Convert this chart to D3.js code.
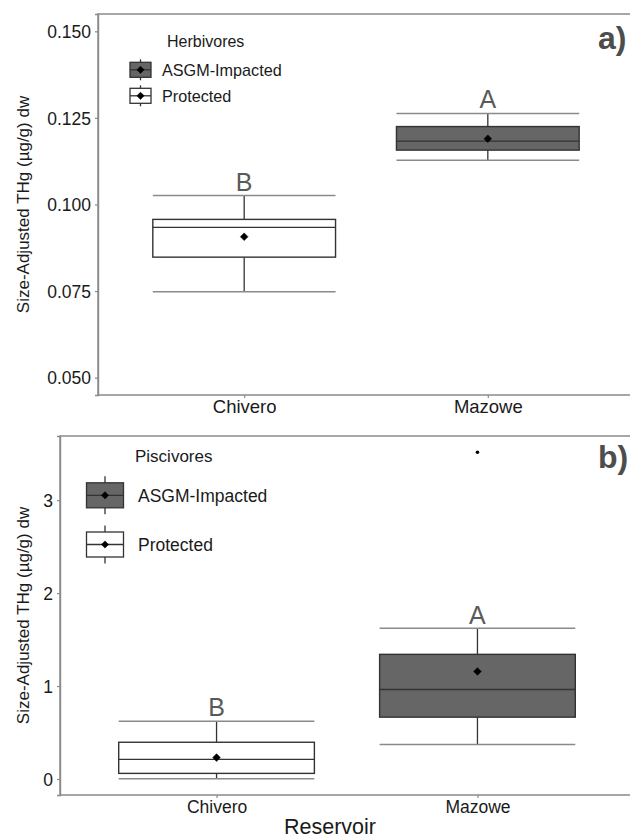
<!DOCTYPE html>
<html>
<head>
<meta charset="utf-8">
<script src="https://cdn.jsdelivr.net/npm/d3@7"></script>
<style>
  html, body { margin: 0; padding: 0; background: #fff; }
  svg { display: block; font-family: "Liberation Sans", Arial, sans-serif; }
</style>
</head>
<body>
<svg id="chart" width="630" height="839"></svg>
<script>
// ---------------- DATA ----------------
const categories = ["Chivero", "Mazowe"];
const groupOfCategory = ["Protected", "ASGM-Impacted"];
const legendGroups = ["ASGM-Impacted", "Protected"];

// Herbivores (panel a)
const herbWhiskerLow  = [0.0748, 0.1128];
const herbQ1          = [0.0848, 0.1157];
const herbMedian      = [0.0934, 0.1183];
const herbQ3          = [0.0957, 0.1225];
const herbWhiskerHigh = [0.1026, 0.1263];
const herbMean        = [0.0907, 0.1190];
const herbLetters     = ["B", "A"];
const herbTicks       = [0.050, 0.075, 0.100, 0.125, 0.150];
const herbLimits      = [0.05, 0.15];

// Piscivores (panel b)
const piscWhiskerLow  = [0.003, 0.370];
const piscQ1          = [0.060, 0.665];
const piscMedian      = [0.211, 0.963];
const piscQ3          = [0.395, 1.341];
const piscWhiskerHigh = [0.621, 1.621];
const piscMean        = [0.230, 1.157];
const piscOutlierCat  = ["Mazowe"];
const piscOutlierVal  = [3.515];
const piscLetters     = ["B", "A"];
const piscTicks       = [0, 1, 2, 3];

const fills = { "ASGM-Impacted": "#666666", "Protected": "#ffffff" };

// ---------------- DRAW ----------------
const svg = d3.select("#chart");
const gridGray = "#8a8a8a";
const dark = "#333333";

function diamond(g, x, y, r) {
  g.append("path")
    .attr("d", `M${x},${y - r}L${x + r},${y}L${x},${y + r}L${x - r},${y}Z`)
    .attr("fill", "#000").attr("stroke", "#000").attr("stroke-width", 0.6).attr("stroke-linejoin", "round");
}

function panel(opt) {
  const g = svg.append("g");
  const x = d3.scalePoint().domain(categories).range([opt.left, opt.right]).padding(0.6);
  const step = x.step();
  const bw = step * 0.75;
  const y = d3.scaleLinear().domain(opt.domain).range([opt.bottom, opt.top]);

  // panel frame (left, top)
  g.append("path")
    .attr("d", `M${opt.left},${opt.bottom}V${opt.top}H${opt.right}`)
    .attr("fill", "none").attr("stroke", gridGray).attr("stroke-width", 1.4);

  // y axis
  const yAxis = d3.axisLeft(y).tickValues(opt.ticks).tickFormat(opt.fmt).tickSize(3).tickPadding(4);
  const ya = g.append("g").attr("transform", `translate(${opt.left},0)`).call(yAxis);
  ya.select(".domain").attr("stroke", gridGray).attr("stroke-width", 1.4);
  ya.selectAll(".tick line").attr("stroke", gridGray).attr("stroke-width", 1.2);
  ya.selectAll(".tick text").attr("fill", "#1a1a1a")
    .style("font-size", opt.tickFont + "px").style("font-family", "Liberation Sans, Arial, sans-serif")
    .attr("dy", "0.36em");

  // x axis
  const xAxis = d3.axisBottom(x).tickSize(3).tickPadding(0);
  const xa = g.append("g").attr("transform", `translate(0,${opt.bottom})`).call(xAxis);
  xa.select(".domain").attr("d", `M${opt.left},0H${opt.right}`).attr("stroke", gridGray).attr("stroke-width", 1.4);
  xa.selectAll(".tick line").attr("stroke", gridGray).attr("stroke-width", 1.2);
  xa.selectAll(".tick text").attr("fill", "#1a1a1a")
    .style("font-size", opt.xFont + "px").style("font-family", "Liberation Sans, Arial, sans-serif")
    .attr("y", opt.xLabelBaseline - opt.bottom).attr("dy", 0);

  // y title
  g.append("text")
    .attr("transform", `translate(29,${(opt.top + opt.bottom) / 2}) rotate(-90)`)
    .attr("text-anchor", "middle").attr("fill", "#1a1a1a")
    .style("font-size", "17px")
    .text("Size-Adjusted THg (µg/g) dw");

  // boxes
  categories.forEach((c, i) => {
    const cx = x(c);
    const grp = groupOfCategory[i];
    g.append("line").attr("x1", cx).attr("x2", cx)
      .attr("y1", y(opt.wHigh[i])).attr("y2", y(opt.q3[i]))
      .attr("stroke", dark).attr("stroke-width", 1.3);
    g.append("line").attr("x1", cx).attr("x2", cx)
      .attr("y1", y(opt.q1[i])).attr("y2", y(opt.wLow[i]))
      .attr("stroke", dark).attr("stroke-width", 1.3);
    [opt.wHigh[i], opt.wLow[i]].forEach(v => {
      g.append("line").attr("x1", cx - bw / 2).attr("x2", cx + bw / 2)
        .attr("y1", y(v)).attr("y2", y(v))
        .attr("stroke", gridGray).attr("stroke-width", 1.5);
    });
    g.append("rect").attr("x", cx - bw / 2).attr("width", bw)
      .attr("y", y(opt.q3[i])).attr("height", y(opt.q1[i]) - y(opt.q3[i]))
      .attr("fill", fills[grp]).attr("stroke", dark).attr("stroke-width", 1.4);
    g.append("line").attr("x1", cx - bw / 2).attr("x2", cx + bw / 2)
      .attr("y1", y(opt.median[i])).attr("y2", y(opt.median[i]))
      .attr("stroke", dark).attr("stroke-width", 1.4);
    diamond(g, cx, y(opt.mean[i]), 3.8);
    g.append("text").attr("x", cx).attr("y", opt.letterBase[i])
      .attr("text-anchor", "middle").attr("fill", "#5a5a5a")
      .style("font-size", "25px").text(opt.letters[i]);
  });

  if (opt.outCat) {
    opt.outCat.forEach((c, k) => {
      g.append("circle").attr("cx", x(c)).attr("cy", y(opt.outVal[k])).attr("r", 1.8).attr("fill", "#000");
    });
  }

  g.append("text").attr("x", 598).attr("y", opt.tagBase)
    .attr("fill", "#4d4d4d").style("font-size", "32px").style("font-weight", "bold")
    .text(opt.tag);

  const L = opt.legend;
  g.append("text").attr("x", L.titleX).attr("y", L.titleY).attr("fill", "#1a1a1a")
    .style("font-size", L.titleFont + "px").text(opt.legendTitle);
  legendGroups.forEach((grp, k) => {
    const cy = L.keyY[k];
    g.append("line").attr("x1", L.keyX).attr("x2", L.keyX)
      .attr("y1", cy - L.whH).attr("y2", cy + L.whH)
      .attr("stroke", dark).attr("stroke-width", 1.3);
    g.append("rect").attr("x", L.keyX - L.boxW / 2).attr("width", L.boxW)
      .attr("y", cy - L.boxH / 2).attr("height", L.boxH)
      .attr("fill", fills[grp]).attr("stroke", dark).attr("stroke-width", 1.3);
    g.append("line").attr("x1", L.keyX - L.boxW / 2).attr("x2", L.keyX + L.boxW / 2)
      .attr("y1", cy).attr("y2", cy).attr("stroke", dark).attr("stroke-width", 1.3);
    diamond(g, L.keyX, cy, 3.6);
    g.append("text").attr("x", L.labelX).attr("y", cy).attr("dy", "0.36em")
      .attr("fill", "#1a1a1a").style("font-size", L.labelFont + "px").text(grp);
  });
}

panel({
  left: 98, right: 634, top: 14, bottom: 395,
  domain: [herbLimits[0] - 0.05 * (herbLimits[1] - herbLimits[0]), herbLimits[1] + 0.05 * (herbLimits[1] - herbLimits[0])],
  ticks: herbTicks, fmt: d3.format(".3f"), tickFont: 17.5, xFont: 18.5, xLabelBaseline: 413,
  wLow: herbWhiskerLow, q1: herbQ1, median: herbMedian, q3: herbQ3, wHigh: herbWhiskerHigh, mean: herbMean,
  letters: herbLetters, letterBase: [191, 108],
  tag: "a)", tagBase: 49,
  legendTitle: "Herbivores",
  legend: { titleX: 167, titleY: 47, titleFont: 16, keyX: 140.5, keyY: [69.8, 95.8], whH: 10.5, boxW: 21, boxH: 15, labelX: 162, labelFont: 16.2 }
});

const piscMin = d3.min(piscWhiskerLow), piscMax = d3.max(piscOutlierVal);
panel({
  left: 60, right: 634, top: 436, bottom: 795,
  domain: [piscMin - 0.05 * (piscMax - piscMin), piscMax + 0.05 * (piscMax - piscMin)],
  ticks: piscTicks, fmt: d3.format("d"), tickFont: 17.5, xFont: 17.5, xLabelBaseline: 812.5,
  wLow: piscWhiskerLow, q1: piscQ1, median: piscMedian, q3: piscQ3, wHigh: piscWhiskerHigh, mean: piscMean,
  outCat: piscOutlierCat, outVal: piscOutlierVal,
  letters: piscLetters, letterBase: [716, 624],
  tag: "b)", tagBase: 468,
  legendTitle: "Piscivores",
  legend: { titleX: 135, titleY: 461.5, titleFont: 17, keyX: 105, keyY: [495.3, 544.5], whH: 19, boxW: 37, boxH: 25, labelX: 138, labelFont: 17.5 }
});

svg.append("text").attr("x", 330).attr("y", 834).attr("text-anchor", "middle")
  .attr("fill", "#1a1a1a").style("font-size", "21.5px").text("Reservoir");
</script>
</body>
</html>
